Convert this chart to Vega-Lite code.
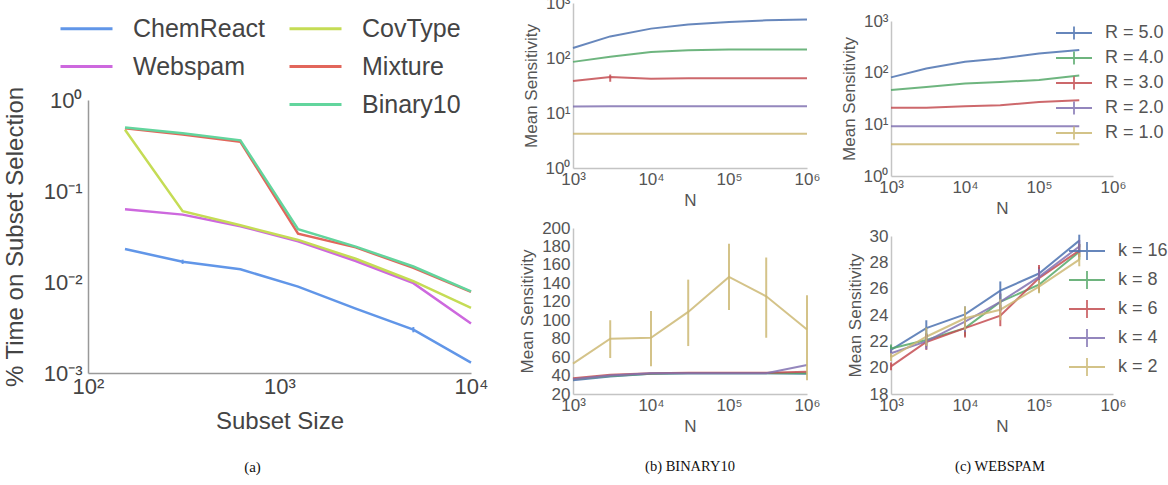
{
  "$schema": "https://vega.github.io/schema/vega-lite/v6.json",
  "background": "white",
  "autosize": {"type": "pad"},
  "padding": {"left": 3, "top": -58, "right": 0, "bottom": 0},
  "config": {
    "view": {"stroke": null},
    "font": "Liberation Sans",
    "axis": {
      "ticks": false, "grid": false, "domainColor": "#c4c4c4", "domainWidth": 1.5,
      "labelColor": "#555", "titleColor": "#555", "labelFontSize": 17, "titleFontSize": 17,
      "titleFontWeight": "normal", "labelPadding": 3, "titlePadding": 5,
      "labelFlush": false, "labelOverlap": false, "labelBound": false,
      "labelFont": "Liberation Sans", "titleFont": "Liberation Sans"
    },
    "legend": {"labelFont": "Liberation Sans", "labelLimit": 0}
  },
  "datasets": {
    "a": [
      {"size": 156, "dataset": "ChemReact", "pct": 0.023},
      {"size": 312, "dataset": "ChemReact", "pct": 0.0167, "lo": 0.0158, "hi": 0.0176},
      {"size": 625, "dataset": "ChemReact", "pct": 0.0138},
      {"size": 1250, "dataset": "ChemReact", "pct": 0.0089},
      {"size": 2500, "dataset": "ChemReact", "pct": 0.0051},
      {"size": 5000, "dataset": "ChemReact", "pct": 0.003, "lo": 0.0028, "hi": 0.0032},
      {"size": 10000, "dataset": "ChemReact", "pct": 0.0013},
      {"size": 156, "dataset": "Webspam", "pct": 0.063},
      {"size": 312, "dataset": "Webspam", "pct": 0.055},
      {"size": 625, "dataset": "Webspam", "pct": 0.041},
      {"size": 1250, "dataset": "Webspam", "pct": 0.028},
      {"size": 2500, "dataset": "Webspam", "pct": 0.017},
      {"size": 5000, "dataset": "Webspam", "pct": 0.0097},
      {"size": 10000, "dataset": "Webspam", "pct": 0.0035},
      {"size": 156, "dataset": "CovType", "pct": 0.47},
      {"size": 312, "dataset": "CovType", "pct": 0.06},
      {"size": 625, "dataset": "CovType", "pct": 0.042},
      {"size": 1250, "dataset": "CovType", "pct": 0.029},
      {"size": 2500, "dataset": "CovType", "pct": 0.018},
      {"size": 5000, "dataset": "CovType", "pct": 0.0102},
      {"size": 10000, "dataset": "CovType", "pct": 0.0052},
      {"size": 156, "dataset": "Mixture", "pct": 0.49},
      {"size": 312, "dataset": "Mixture", "pct": 0.418},
      {"size": 625, "dataset": "Mixture", "pct": 0.348},
      {"size": 1250, "dataset": "Mixture", "pct": 0.034},
      {"size": 2500, "dataset": "Mixture", "pct": 0.024},
      {"size": 5000, "dataset": "Mixture", "pct": 0.0143},
      {"size": 10000, "dataset": "Mixture", "pct": 0.0078},
      {"size": 156, "dataset": "Binary10", "pct": 0.5},
      {"size": 312, "dataset": "Binary10", "pct": 0.43},
      {"size": 625, "dataset": "Binary10", "pct": 0.36},
      {"size": 1250, "dataset": "Binary10", "pct": 0.038},
      {"size": 2500, "dataset": "Binary10", "pct": 0.0245},
      {"size": 5000, "dataset": "Binary10", "pct": 0.0148},
      {"size": 10000, "dataset": "Binary10", "pct": 0.0079}
    ],
    "btop": [
      {"N": 1000, "s": "R = 5.0", "m": 152}, {"N": 3000, "s": "R = 5.0", "m": 247}, {"N": 10000, "s": "R = 5.0", "m": 342}, {"N": 30000, "s": "R = 5.0", "m": 405}, {"N": 100000, "s": "R = 5.0", "m": 450}, {"N": 300000, "s": "R = 5.0", "m": 484}, {"N": 1000000, "s": "R = 5.0", "m": 500},
      {"N": 1000, "s": "R = 4.0", "m": 85}, {"N": 3000, "s": "R = 4.0", "m": 105}, {"N": 10000, "s": "R = 4.0", "m": 129}, {"N": 30000, "s": "R = 4.0", "m": 138}, {"N": 100000, "s": "R = 4.0", "m": 142}, {"N": 300000, "s": "R = 4.0", "m": 142}, {"N": 1000000, "s": "R = 4.0", "m": 142},
      {"N": 1000, "s": "R = 3.0", "m": 38}, {"N": 3000, "s": "R = 3.0", "m": 45, "lo": 37, "hi": 50}, {"N": 10000, "s": "R = 3.0", "m": 42}, {"N": 30000, "s": "R = 3.0", "m": 43}, {"N": 100000, "s": "R = 3.0", "m": 43}, {"N": 300000, "s": "R = 3.0", "m": 43}, {"N": 1000000, "s": "R = 3.0", "m": 43},
      {"N": 1000, "s": "R = 2.0", "m": 13.1}, {"N": 3000, "s": "R = 2.0", "m": 13.2}, {"N": 10000, "s": "R = 2.0", "m": 13.2}, {"N": 30000, "s": "R = 2.0", "m": 13.2}, {"N": 100000, "s": "R = 2.0", "m": 13.2}, {"N": 300000, "s": "R = 2.0", "m": 13.3}, {"N": 1000000, "s": "R = 2.0", "m": 13.3},
      {"N": 1000, "s": "R = 1.0", "m": 4.2}, {"N": 3000, "s": "R = 1.0", "m": 4.2}, {"N": 10000, "s": "R = 1.0", "m": 4.2}, {"N": 30000, "s": "R = 1.0", "m": 4.2}, {"N": 100000, "s": "R = 1.0", "m": 4.2}, {"N": 300000, "s": "R = 1.0", "m": 4.2}, {"N": 1000000, "s": "R = 1.0", "m": 4.2}
    ],
    "bbot": [
      {"N": 1000, "s": "k = 16", "m": 35}, {"N": 3000, "s": "k = 16", "m": 39}, {"N": 10000, "s": "k = 16", "m": 42}, {"N": 30000, "s": "k = 16", "m": 42.5}, {"N": 100000, "s": "k = 16", "m": 42.5}, {"N": 300000, "s": "k = 16", "m": 42.5}, {"N": 1000000, "s": "k = 16", "m": 42},
      {"N": 1000, "s": "k = 8", "m": 36}, {"N": 3000, "s": "k = 8", "m": 39.5}, {"N": 10000, "s": "k = 8", "m": 42}, {"N": 30000, "s": "k = 8", "m": 42.5}, {"N": 100000, "s": "k = 8", "m": 42.5}, {"N": 300000, "s": "k = 8", "m": 42.5}, {"N": 1000000, "s": "k = 8", "m": 42.5},
      {"N": 1000, "s": "k = 6", "m": 37}, {"N": 3000, "s": "k = 6", "m": 41}, {"N": 10000, "s": "k = 6", "m": 42.5}, {"N": 30000, "s": "k = 6", "m": 43}, {"N": 100000, "s": "k = 6", "m": 43}, {"N": 300000, "s": "k = 6", "m": 43}, {"N": 1000000, "s": "k = 6", "m": 44},
      {"N": 1000, "s": "k = 4", "m": 36}, {"N": 3000, "s": "k = 4", "m": 40}, {"N": 10000, "s": "k = 4", "m": 42.5}, {"N": 30000, "s": "k = 4", "m": 42.5}, {"N": 100000, "s": "k = 4", "m": 42.5}, {"N": 300000, "s": "k = 4", "m": 42.5}, {"N": 1000000, "s": "k = 4", "m": 51.5},
      {"N": 1000, "s": "k = 2", "m": 53}, {"N": 3000, "s": "k = 2", "m": 80, "lo": 59, "hi": 100}, {"N": 10000, "s": "k = 2", "m": 81, "lo": 50, "hi": 110}, {"N": 30000, "s": "k = 2", "m": 109, "lo": 72, "hi": 144}, {"N": 100000, "s": "k = 2", "m": 147, "lo": 111, "hi": 183}, {"N": 300000, "s": "k = 2", "m": 126, "lo": 81, "hi": 168}, {"N": 1000000, "s": "k = 2", "m": 90, "lo": 35, "hi": 127}
    ],
    "ctop": [
      {"N": 1000, "s": "R = 5.0", "m": 81}, {"N": 3000, "s": "R = 5.0", "m": 120}, {"N": 10000, "s": "R = 5.0", "m": 162}, {"N": 30000, "s": "R = 5.0", "m": 188}, {"N": 100000, "s": "R = 5.0", "m": 235}, {"N": 350000, "s": "R = 5.0", "m": 274},
      {"N": 1000, "s": "R = 4.0", "m": 46}, {"N": 3000, "s": "R = 4.0", "m": 53}, {"N": 10000, "s": "R = 4.0", "m": 62}, {"N": 30000, "s": "R = 4.0", "m": 66}, {"N": 100000, "s": "R = 4.0", "m": 72}, {"N": 350000, "s": "R = 4.0", "m": 88},
      {"N": 1000, "s": "R = 3.0", "m": 21}, {"N": 3000, "s": "R = 3.0", "m": 21}, {"N": 10000, "s": "R = 3.0", "m": 22.4}, {"N": 30000, "s": "R = 3.0", "m": 23.4}, {"N": 100000, "s": "R = 3.0", "m": 27}, {"N": 350000, "s": "R = 3.0", "m": 29.3},
      {"N": 1000, "s": "R = 2.0", "m": 9.2}, {"N": 3000, "s": "R = 2.0", "m": 9.2}, {"N": 10000, "s": "R = 2.0", "m": 9.2}, {"N": 30000, "s": "R = 2.0", "m": 9.2}, {"N": 100000, "s": "R = 2.0", "m": 9.2}, {"N": 350000, "s": "R = 2.0", "m": 9.2},
      {"N": 1000, "s": "R = 1.0", "m": 4.1}, {"N": 3000, "s": "R = 1.0", "m": 4.1}, {"N": 10000, "s": "R = 1.0", "m": 4.1}, {"N": 30000, "s": "R = 1.0", "m": 4.1}, {"N": 100000, "s": "R = 1.0", "m": 4.1}, {"N": 350000, "s": "R = 1.0", "m": 4.1}
    ],
    "cbot": [
      {"N": 1000, "s": "k = 16", "m": 21.35, "lo": 21.05, "hi": 21.65}, {"N": 3000, "s": "k = 16", "m": 23.0, "lo": 22.4, "hi": 23.6}, {"N": 10000, "s": "k = 16", "m": 24.05, "lo": 23.45, "hi": 24.65}, {"N": 30000, "s": "k = 16", "m": 25.85, "lo": 25.15, "hi": 26.55}, {"N": 100000, "s": "k = 16", "m": 27.15, "lo": 26.65, "hi": 27.65}, {"N": 350000, "s": "k = 16", "m": 29.65, "lo": 29.15, "hi": 30.1},
      {"N": 1000, "s": "k = 8", "m": 21.45, "lo": 21.15, "hi": 21.75}, {"N": 3000, "s": "k = 8", "m": 22.1, "lo": 21.6, "hi": 22.6}, {"N": 10000, "s": "k = 8", "m": 23.0, "lo": 22.4, "hi": 23.6}, {"N": 30000, "s": "k = 8", "m": 25.0, "lo": 24.4, "hi": 25.6}, {"N": 100000, "s": "k = 8", "m": 26.3, "lo": 25.7, "hi": 26.9}, {"N": 350000, "s": "k = 8", "m": 28.8, "lo": 28.2, "hi": 29.4},
      {"N": 1000, "s": "k = 6", "m": 20.1, "lo": 19.8, "hi": 20.4}, {"N": 3000, "s": "k = 6", "m": 21.95, "lo": 21.35, "hi": 22.55}, {"N": 10000, "s": "k = 6", "m": 23.0, "lo": 22.3, "hi": 23.7}, {"N": 30000, "s": "k = 6", "m": 23.95, "lo": 23.15, "hi": 24.75}, {"N": 100000, "s": "k = 6", "m": 26.8, "lo": 25.8, "hi": 27.8}, {"N": 350000, "s": "k = 6", "m": 28.9, "lo": 28.4, "hi": 29.4},
      {"N": 1000, "s": "k = 4", "m": 21.1, "lo": 20.8, "hi": 21.4}, {"N": 3000, "s": "k = 4", "m": 22.0, "lo": 21.4, "hi": 22.6}, {"N": 10000, "s": "k = 4", "m": 23.5, "lo": 22.7, "hi": 24.3}, {"N": 30000, "s": "k = 4", "m": 25.0, "lo": 24.3, "hi": 25.7}, {"N": 100000, "s": "k = 4", "m": 26.9, "lo": 26.3, "hi": 27.5}, {"N": 350000, "s": "k = 4", "m": 29.2, "lo": 28.7, "hi": 29.7},
      {"N": 1000, "s": "k = 2", "m": 20.8, "lo": 20.5, "hi": 21.1}, {"N": 3000, "s": "k = 2", "m": 22.35, "lo": 21.65, "hi": 23.05}, {"N": 10000, "s": "k = 2", "m": 23.75, "lo": 22.85, "hi": 24.65}, {"N": 30000, "s": "k = 2", "m": 24.4, "lo": 23.6, "hi": 25.2}, {"N": 100000, "s": "k = 2", "m": 26.15, "lo": 25.65, "hi": 26.65}, {"N": 350000, "s": "k = 2", "m": 28.2, "lo": 27.7, "hi": 28.7}
    ]
  },
  "resolve": {"scale": {"color": "independent"}, "legend": {"color": "independent"}},
  "spacing": 30,
  "hconcat": [
    {
      "bounds": "flush",
      "spacing": 81,
      "resolve": {"scale": {"color": "independent"}, "legend": {"color": "independent"}},
      "vconcat": [
        {"width": 383, "height": 77, "data": {"values": []}, "mark": {"type": "point"}, "encoding": {}},
        {
          "width": 383, "height": 273,
          "data": {"name": "a"},
          "encoding": {
            "x": {"field": "size", "type": "quantitative", "scale": {"type": "log", "domain": [100, 10000], "nice": false},
              "axis": {"values": [100, 1000, 10000], "title": "Subset Size", "labelExpr": "'10' + ['⁰','¹','²','³','⁴','⁵','⁶'][round(log(datum.value)/LN10)]",
                "domainColor": "#999", "labelFontSize": 22, "titleFontSize": 24, "labelColor": "#444", "titleColor": "#444", "labelPadding": 3, "titlePadding": 12}},
            "color": {"field": "dataset", "type": "nominal",
              "scale": {"domain": ["ChemReact", "Webspam", " ", "CovType", "Mixture", "Binary10"], "range": ["#6196e8", "#cd68de", "rgba(0,0,0,0)", "#c5dc55", "#e2665b", "#62d59d"]},
              "legend": {"orient": "none", "legendX": -14, "legendY": -84, "columns": 2, "title": null, "symbolType": "M-2.6,0H2.6", "symbolSize": 400, "symbolStrokeWidth": 3, "labelFontSize": 25, "labelColor": "#444", "labelOffset": 34, "columnPadding": 18, "rowPadding": 12}}
          },
          "layer": [
            {"mark": {"type": "line", "strokeWidth": 2.5},
              "encoding": {"y": {"field": "pct", "type": "quantitative", "title": "% Time on Subset Selection", "scale": {"type": "log", "domain": [0.001, 1], "nice": false},
                "axis": {"values": [0.001, 0.01, 0.1, 1], "labelExpr": "'10' + ['⁰','⁻¹','⁻²','⁻³'][round(-log(datum.value)/LN10)]",
                  "domainColor": "#999", "labelFontSize": 22, "titleFontSize": 24, "labelColor": "#444", "titleColor": "#444", "labelPadding": 6, "titlePadding": 16}}}},
            {"transform": [{"filter": "isValid(datum.lo)"}], "mark": {"type": "rule", "strokeWidth": 2},
              "encoding": {"y": {"field": "lo", "type": "quantitative", "title": "% Time on Subset Selection", "scale": {"type": "log", "domain": [0.001, 1], "nice": false},
                "axis": {"values": [0.001, 0.01, 0.1, 1], "labelExpr": "'10' + ['⁰','⁻¹','⁻²','⁻³'][round(-log(datum.value)/LN10)]",
                  "domainColor": "#999", "labelFontSize": 22, "titleFontSize": 24, "labelColor": "#444", "titleColor": "#444", "labelPadding": 6, "titlePadding": 16}},
                "y2": {"field": "hi"}}}
          ]
        },
        {"width": 383, "height": 26, "data": {"values": [{"cap": "(a)"}]}, "mark": {"type": "text", "font": "Liberation Serif", "fontSize": 15, "color": "#111", "dx": -27}, "encoding": {"text": {"field": "cap"}}}
      ]
    },
    {
      "spacing": 20,
      "resolve": {"scale": {"color": "independent"}, "legend": {"color": "independent"}},
      "hconcat": [
        {
          "bounds": "flush",
          "spacing": 60,
          "resolve": {"scale": {"color": "independent"}, "legend": {"color": "independent"}},
          "vconcat": [
            {"width": 234, "height": 1, "data": {"values": []}, "mark": {"type": "point"}, "encoding": {}},
            {
              "width": 234, "height": 165,
              "data": {"name": "btop"},
              "encoding": {
                "x": {"field": "N", "type": "quantitative", "title": "N", "scale": {"type": "log", "domain": [1000, 1000000], "nice": false},
                  "axis": {"values": [1000, 10000, 100000, 1000000], "labelExpr": "'10' + ['⁰','¹','²','³','⁴','⁵','⁶'][round(log(datum.value)/LN10)]"}},
                "color": {"field": "s", "type": "nominal", "scale": {"domain": ["R = 5.0", "R = 4.0", "R = 3.0", "R = 2.0", "R = 1.0"], "range": ["#4C72B0", "#55A868", "#C44E52", "#8172B2", "#CCB974"]}, "legend": null}
              },
              "layer": [
                {"mark": {"type": "line", "strokeWidth": 2, "opacity": 0.85},
                  "encoding": {"y": {"field": "m", "type": "quantitative", "title": "Mean Sensitivity", "scale": {"type": "log", "domain": [1, 1000], "nice": false},
                    "axis": {"values": [1, 10, 100, 1000], "labelExpr": "'10' + ['⁰','¹','²','³','⁴','⁵','⁶'][round(log(datum.value)/LN10)]"}}}},
                {"transform": [{"filter": "isValid(datum.lo)"}], "mark": {"type": "rule", "strokeWidth": 2, "opacity": 0.85},
                  "encoding": {"y": {"field": "lo", "type": "quantitative", "title": "Mean Sensitivity", "scale": {"type": "log", "domain": [1, 1000], "nice": false},
                    "axis": {"values": [1, 10, 100, 1000], "labelExpr": "'10' + ['⁰','¹','²','³','⁴','⁵','⁶'][round(log(datum.value)/LN10)]"}}, "y2": {"field": "hi"}}}
              ]
            },
            {
              "width": 234, "height": 166,
              "data": {"name": "bbot"},
              "encoding": {
                "x": {"field": "N", "type": "quantitative", "title": "N", "scale": {"type": "log", "domain": [1000, 1000000], "nice": false},
                  "axis": {"values": [1000, 10000, 100000, 1000000], "labelExpr": "'10' + ['⁰','¹','²','³','⁴','⁵','⁶'][round(log(datum.value)/LN10)]"}},
                "color": {"field": "s", "type": "nominal", "scale": {"domain": ["k = 16", "k = 8", "k = 6", "k = 4", "k = 2"], "range": ["#4C72B0", "#55A868", "#C44E52", "#8172B2", "#CCB974"]}, "legend": null}
              },
              "layer": [
                {"mark": {"type": "line", "strokeWidth": 2, "opacity": 0.85},
                  "encoding": {"y": {"field": "m", "type": "quantitative", "title": "Mean Sensitivity", "scale": {"domain": [20, 200], "nice": false, "zero": false},
                    "axis": {"values": [20, 40, 60, 80, 100, 120, 140, 160, 180, 200]}}}},
                {"transform": [{"filter": "isValid(datum.lo)"}], "mark": {"type": "rule", "strokeWidth": 2, "opacity": 0.85},
                  "encoding": {"y": {"field": "lo", "type": "quantitative", "title": "Mean Sensitivity", "scale": {"domain": [20, 200], "nice": false, "zero": false},
                    "axis": {"values": [20, 40, 60, 80, 100, 120, 140, 160, 180, 200]}}, "y2": {"field": "hi"}}}
              ]
            },
            {"width": 234, "height": 26, "data": {"values": [{"cap": "(b) BINARY10"}]}, "mark": {"type": "text", "font": "Liberation Serif", "fontSize": 14.5, "color": "#111"}, "encoding": {"text": {"field": "cap"}}}
          ]
        },
        {
          "bounds": "flush",
          "spacing": 60,
          "resolve": {"scale": {"color": "independent"}, "legend": {"color": "independent"}},
          "vconcat": [
            {"width": 222, "height": 19, "data": {"values": []}, "mark": {"type": "point"}, "encoding": {}},
            {
              "width": 222, "height": 155,
              "data": {"name": "ctop"},
              "encoding": {
                "x": {"field": "N", "type": "quantitative", "title": "N", "scale": {"type": "log", "domain": [1000, 1000000], "nice": false},
                  "axis": {"values": [1000, 10000, 100000, 1000000], "labelExpr": "'10' + ['⁰','¹','²','³','⁴','⁵','⁶'][round(log(datum.value)/LN10)]"}},
                "color": {"field": "s", "type": "nominal", "scale": {"domain": ["R = 5.0", "R = 4.0", "R = 3.0", "R = 2.0", "R = 1.0"], "range": ["#4C72B0", "#55A868", "#C44E52", "#8172B2", "#CCB974"]},
                  "legend": {"orient": "none", "legendX": 172, "legendY": 1, "title": null, "symbolType": "M-1.8,0H1.8M0,-0.65V0.65", "symbolSize": 400, "symbolStrokeWidth": 1.8, "symbolOpacity": 0.85, "labelFontSize": 18, "labelColor": "#555", "labelOffset": 20, "rowPadding": 3}}
              },
              "layer": [
                {"mark": {"type": "line", "strokeWidth": 2, "opacity": 0.85},
                  "encoding": {"y": {"field": "m", "type": "quantitative", "title": "Mean Sensitivity", "scale": {"type": "log", "domain": [1, 1000], "nice": false},
                    "axis": {"values": [1, 10, 100, 1000], "labelExpr": "'10' + ['⁰','¹','²','³','⁴','⁵','⁶'][round(log(datum.value)/LN10)]"}}}}
              ]
            },
            {
              "width": 222, "height": 158,
              "data": {"name": "cbot"},
              "encoding": {
                "x": {"field": "N", "type": "quantitative", "title": "N", "scale": {"type": "log", "domain": [1000, 1000000], "nice": false},
                  "axis": {"values": [1000, 10000, 100000, 1000000], "labelExpr": "'10' + ['⁰','¹','²','³','⁴','⁵','⁶'][round(log(datum.value)/LN10)]"}},
                "color": {"field": "s", "type": "nominal", "scale": {"domain": ["k = 16", "k = 8", "k = 6", "k = 4", "k = 2"], "range": ["#4C72B0", "#55A868", "#C44E52", "#8172B2", "#CCB974"]},
                  "legend": {"orient": "none", "legendX": 185, "legendY": 4, "title": null, "symbolType": "M-1.8,0H1.8M0,-0.9V0.9", "symbolSize": 400, "symbolStrokeWidth": 1.8, "symbolOpacity": 0.85, "labelFontSize": 18, "labelColor": "#555", "labelOffset": 20, "rowPadding": 3}}
              },
              "layer": [
                {"mark": {"type": "line", "strokeWidth": 2, "opacity": 0.85},
                  "encoding": {"y": {"field": "m", "type": "quantitative", "title": "Mean Sensitivity", "scale": {"domain": [18, 30], "nice": false, "zero": false},
                    "axis": {"values": [18, 20, 22, 24, 26, 28, 30]}}}},
                {"mark": {"type": "rule", "strokeWidth": 2, "opacity": 0.85},
                  "encoding": {"y": {"field": "lo", "type": "quantitative", "title": "Mean Sensitivity", "scale": {"domain": [18, 30], "nice": false, "zero": false},
                    "axis": {"values": [18, 20, 22, 24, 26, 28, 30]}}, "y2": {"field": "hi"}}}
              ]
            },
            {"width": 222, "height": 26, "data": {"values": [{"cap": "(c) WEBSPAM"}]}, "mark": {"type": "text", "font": "Liberation Serif", "fontSize": 14.5, "color": "#111", "dx": -2}, "encoding": {"text": {"field": "cap"}}}
          ]
        }
      ]
    }
  ]
}
